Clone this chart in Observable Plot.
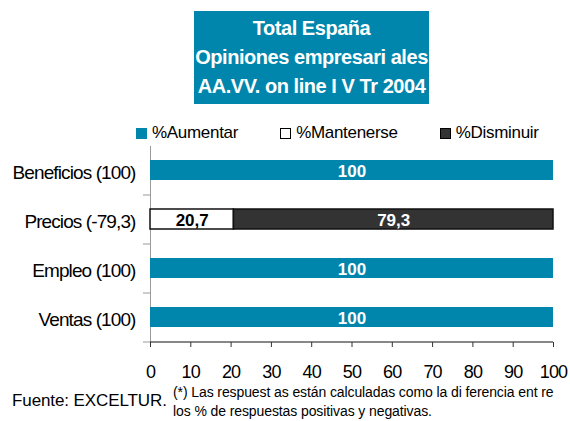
<!DOCTYPE html>
<html>
<head>
<meta charset="utf-8">
<script src="https://cdn.jsdelivr.net/npm/d3@7"></script>
<script src="https://cdn.jsdelivr.net/npm/@observablehq/plot@0.6"></script>
<style>
  body { margin: 0; background: #fff; }
  #wrap { position: relative; width: 570px; height: 421px; overflow: hidden;
          font-family: "Liberation Sans", Arial, sans-serif; color: #000; }
  #chart svg { position: absolute; left: 0; top: 0; }
  .title { position: absolute; left: 194px; top: 11px; width: 235px; height: 93px;
           box-sizing: border-box; padding-top: 3px; background: #0086ac; color: #fff;
           font-weight: bold; font-size: 20px; letter-spacing: -0.45px; line-height: 29px;
           text-align: center; white-space: nowrap; z-index: 2; }
  .legend { position: absolute; left: 136px; top: 124px; display: flex; gap: 42px;
            font-size: 17px; line-height: 17px; letter-spacing: -0.3px; z-index: 2; }
  .legend .item { display: flex; align-items: center; }
  .legend .sw { width: 11px; height: 11px; box-sizing: border-box; margin-right: 5px; margin-top: 2px; }
  .fuente { position: absolute; left: 12px; top: 392px; font-size: 17px; line-height: 17px;
            letter-spacing: -0.1px; z-index: 2; }
  .nota { position: absolute; left: 173px; top: 383px; font-size: 14px; line-height: 18.7px;
          letter-spacing: -0.1px; z-index: 2; white-space: nowrap; }
  #chart g[aria-label="y-axis tick label"] text { letter-spacing: -0.9px; }
  #chart g[aria-label="x-axis tick label"] text { letter-spacing: -0.8px; }
</style>
</head>
<body>
<div id="wrap">
  <div class="title">Total España<br>Opiniones empresari ales<br>AA.VV. on line I V Tr 2004</div>
  <div class="legend" id="legend"></div>
  <div id="chart"></div>
  <div class="fuente">Fuente: EXCELTUR.</div>
  <div class="nota">(*) Las respuest as están calculadas como la di ferencia ent re<br>los % de respuestas positivas y negativas.</div>
</div>
<script>
// ---- data ----
const categories = ["Beneficios (100)", "Precios (-79,3)", "Empleo (100)", "Ventas (100)"];
const series = ["%Aumentar", "%Mantenerse", "%Disminuir"];
const aumentar = [100, 0, 100, 100];
const mantenerse = [0, 20.7, 0, 0];
const disminuir = [0, 79.3, 0, 0];
const xTicks = [0, 10, 20, 30, 40, 50, 60, 70, 80, 90, 100];
const seriesColors = ["#0086ac", "#ffffff", "#333333"];

// ---- table ----
const rows = [];
[aumentar, mantenerse, disminuir].forEach((vals, si) => {
  vals.forEach((v, ci) => {
    if (v > 0) rows.push({cat: categories[ci], series: series[si], value: v});
  });
});
const fmt = v => String(v).replace(".", ",");

// ---- legend ----
const legend = document.getElementById("legend");
series.forEach((s, i) => {
  const item = document.createElement("div");
  item.className = "item";
  const sw = document.createElement("div");
  sw.className = "sw";
  sw.style.background = seriesColors[i];
  if (i > 0) sw.style.border = "1px solid #000";
  const t = document.createElement("span");
  t.textContent = s;
  item.append(sw, t);
  legend.append(item);
});

// ---- layout ----
const W = 570, H = 421, mTop = 146, mBottom = 79, mLeft = 150, mRight = 17;
const step = (H - mTop - mBottom) / categories.length;
const tickLen = 7 * 100 / (W - mLeft - mRight);

const plot = Plot.plot({
  width: W, height: H,
  marginTop: mTop, marginBottom: mBottom, marginLeft: mLeft, marginRight: mRight,
  style: {fontFamily: "'Liberation Sans', Arial, sans-serif", background: "transparent", color: "#000", overflow: "visible"},
  x: {domain: [0, 100]},
  y: {domain: categories, paddingInner: 0.59, paddingOuter: 0.295},
  color: {domain: series, range: seriesColors},
  marks: [
    Plot.ruleX([0], {stroke: "#9a9a9a"}),
    Plot.ruleY(categories, {y: d => d, dy: step / 2, x1: -tickLen, x2: 0, stroke: "#9a9a9a"}),
    Plot.barX(rows, Plot.stackX({
      x: "value", y: "cat", fill: "series",
      stroke: d => d.series === series[0] ? "none" : "#111",
      strokeWidth: 1.5
    })),
    Plot.text(rows, Plot.stackX({
      x: "value", y: "cat", text: d => fmt(d.value),
      fill: d => d.series === series[1] ? "#000" : "#fff",
      fontWeight: "bold", fontSize: 17, dy: 1
    })),
    Plot.ruleY(categories.slice(-1), {y: d => d, dy: step / 2, x1: 0, x2: 100, stroke: "#111"}),
    Plot.axisX({ticks: xTicks, tickSize: 5, tickPadding: 18, fontSize: 18, label: null, stroke: "#333"}),
    Plot.axisY({tickSize: 0, tickPadding: 15, fontSize: 19, label: null, dy: 2})
  ]
});
document.getElementById("chart").append(plot);
</script>
</body>
</html>
